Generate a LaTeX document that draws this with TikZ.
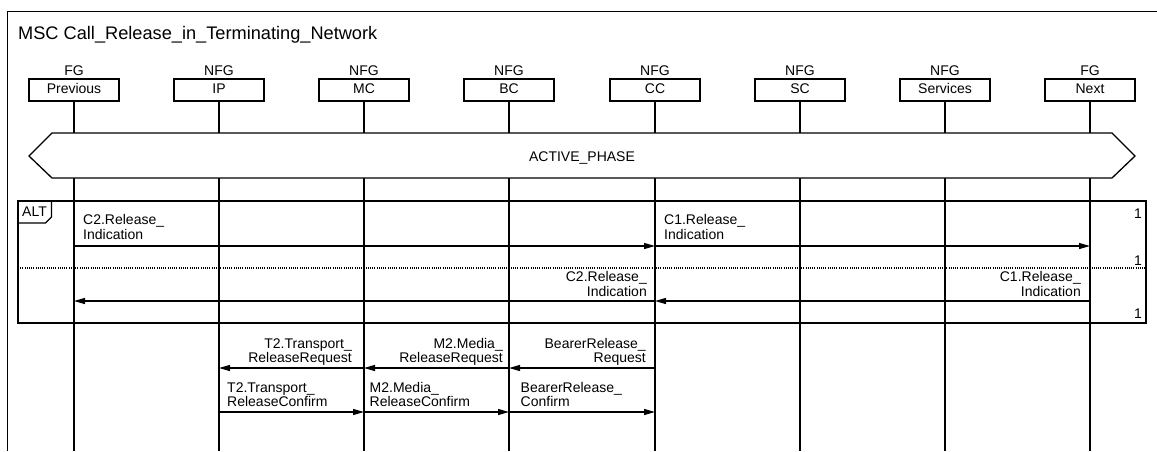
\documentclass[tikz,border=0pt]{standalone}
\usepackage{fontspec}
\setmainfont{Liberation Sans}
\usetikzlibrary{arrows.meta}
\newcommand\lastline[1]{\raisebox{0pt}[\height][0pt]{#1}}
\begin{document}
\begin{tikzpicture}[x=1pt,y=-1pt,
  lbl/.style={font=\fontsize{14}{14.4}\selectfont, inner sep=0pt},
  head/.style={draw, line width=1.3pt, minimum width=90pt, minimum height=22pt, inner sep=0pt,
    font=\fontsize{14}{14}\selectfont, text height=10pt, text depth=3pt},
  kind/.style={lbl, anchor=base},
  life/.style={line width=1.3pt},
  frame/.style={line width=1.3pt},
  msg/.style={line width=1.3pt, -{Triangle[length=11pt,width=6pt]}},
  ml/.style={lbl, align=left, anchor=south west},
  mr/.style={lbl, align=right, anchor=south east},
  num/.style={lbl, anchor=base east},
]
\useasboundingbox (0,0) rectangle (1157,451);
% outer frame
\draw[line width=1pt] (7,451) -- (7,11) -- (1157,11);
\node[anchor=base west, font=\fontsize{18.2}{18}\selectfont, inner sep=0pt] (title) at (18,39)
  {MSC Call\_Release\_in\_Terminating\_Network};

% heads
\node[head] (prev) at (74,90) {Previous};
\node[head] (ip) at (219,90) {IP};
\node[head] (mc) at (364,90) {MC};
\node[head] (bc) at (509,90) {BC};
\node[head] (cc) at (655,90) {CC};
\node[head] (sc) at (800,90) {SC};
\node[head] (serv) at (945,90) {Services};
\node[head] (next) at (1090,90) {Next};
\node[kind] (prevk) at (74,75) {FG};
\node[kind] (ipk) at (219,75) {NFG};
\node[kind] (mck) at (364,75) {NFG};
\node[kind] (bck) at (509,75) {NFG};
\node[kind] (cck) at (655,75) {NFG};
\node[kind] (sck) at (800,75) {NFG};
\node[kind] (servk) at (945,75) {NFG};
\node[kind] (nextk) at (1090,75) {FG};

% lifelines
\foreach \n/\x in {prev/74, ip/219, mc/364, bc/509, cc/655, sc/800, serv/945, next/1090}{
  \coordinate (\n end) at (\x,451);
  \draw[life] (\n) -- (\n end);
}

% condition ACTIVE_PHASE
\draw[frame, fill=white] (29,156) -- (52,133) -- (1112,133) -- (1135,156) -- (1112,178) -- (52,178) -- cycle;
\node[lbl, anchor=base] (phase) at (582,161.5) {ACTIVE\_PHASE};

% ALT inline expression
\draw[frame] (18,201) rectangle (1146,323);
\draw[frame] (51.5,201) -- (51.5,217) -- (45.5,223) -- (18,223);
\node[lbl, anchor=base] (alt) at (34.5,216.5) {ALT};
\draw[line width=1.3pt, dash pattern=on 1pt off 1.2pt] (18,268) -- (1146,268);
\node[num] (n1) at (1142,218.5) {1};
\node[num] (n2) at (1142,265.5) {1};
\node[num] (n3) at (1142,318.5) {1};

% message coordinates
\coordinate (p1) at (74,246);  \coordinate (c1) at (655,246); \coordinate (x1) at (1090,246);
\coordinate (p2) at (74,301);  \coordinate (c2) at (655,301); \coordinate (x2) at (1090,301);
\coordinate (i3) at (219,368); \coordinate (m3) at (364,368); \coordinate (b3) at (509,368); \coordinate (c3) at (655,368);
\coordinate (i4) at (219,412); \coordinate (m4) at (364,412); \coordinate (b4) at (509,412); \coordinate (c4) at (655,412);

% section 1
\draw[msg] (p1) -- (c1);
\node[ml] (l1) at (83,239.5) {C2.Release\_\\\lastline{Indication}};
\draw[msg] (c1) -- (x1);
\node[ml] (l2) at (664,239.5) {C1.Release\_\\\lastline{Indication}};
% section 2
\draw[msg] (x2) -- (c2);
\node[mr] (l3) at (1081,296.5) {C1.Release\_\\\lastline{Indication}};
\draw[msg] (c2) -- (p2);
\node[mr] (l4) at (647,296.5) {C2.Release\_\\\lastline{Indication}};

% release requests
\draw[msg] (c3) -- (b3);
\node[mr] (l5) at (646,363) {BearerRelease\_\\\lastline{Request}};
\draw[msg] (b3) -- (m3);
\node[mr] (l6) at (503,363) {M2.Media\_\\\lastline{ReleaseRequest}};
\draw[msg] (m3) -- (i3);
\node[mr] (l7) at (352,363) {T2.Transport\_\\\lastline{ReleaseRequest}};
% release confirms
\draw[msg] (i4) -- (m4);
\node[ml] (l8) at (227,407) {T2.Transport\_\\\lastline{ReleaseConfirm}};
\draw[msg] (m4) -- (b4);
\node[ml] (l9) at (369.5,407) {M2.Media\_\\\lastline{ReleaseConfirm}};
\draw[msg] (b4) -- (c4);
\node[ml] (l10) at (520.5,407) {BearerRelease\_\\\lastline{Confirm}};
\end{tikzpicture}
\end{document}
